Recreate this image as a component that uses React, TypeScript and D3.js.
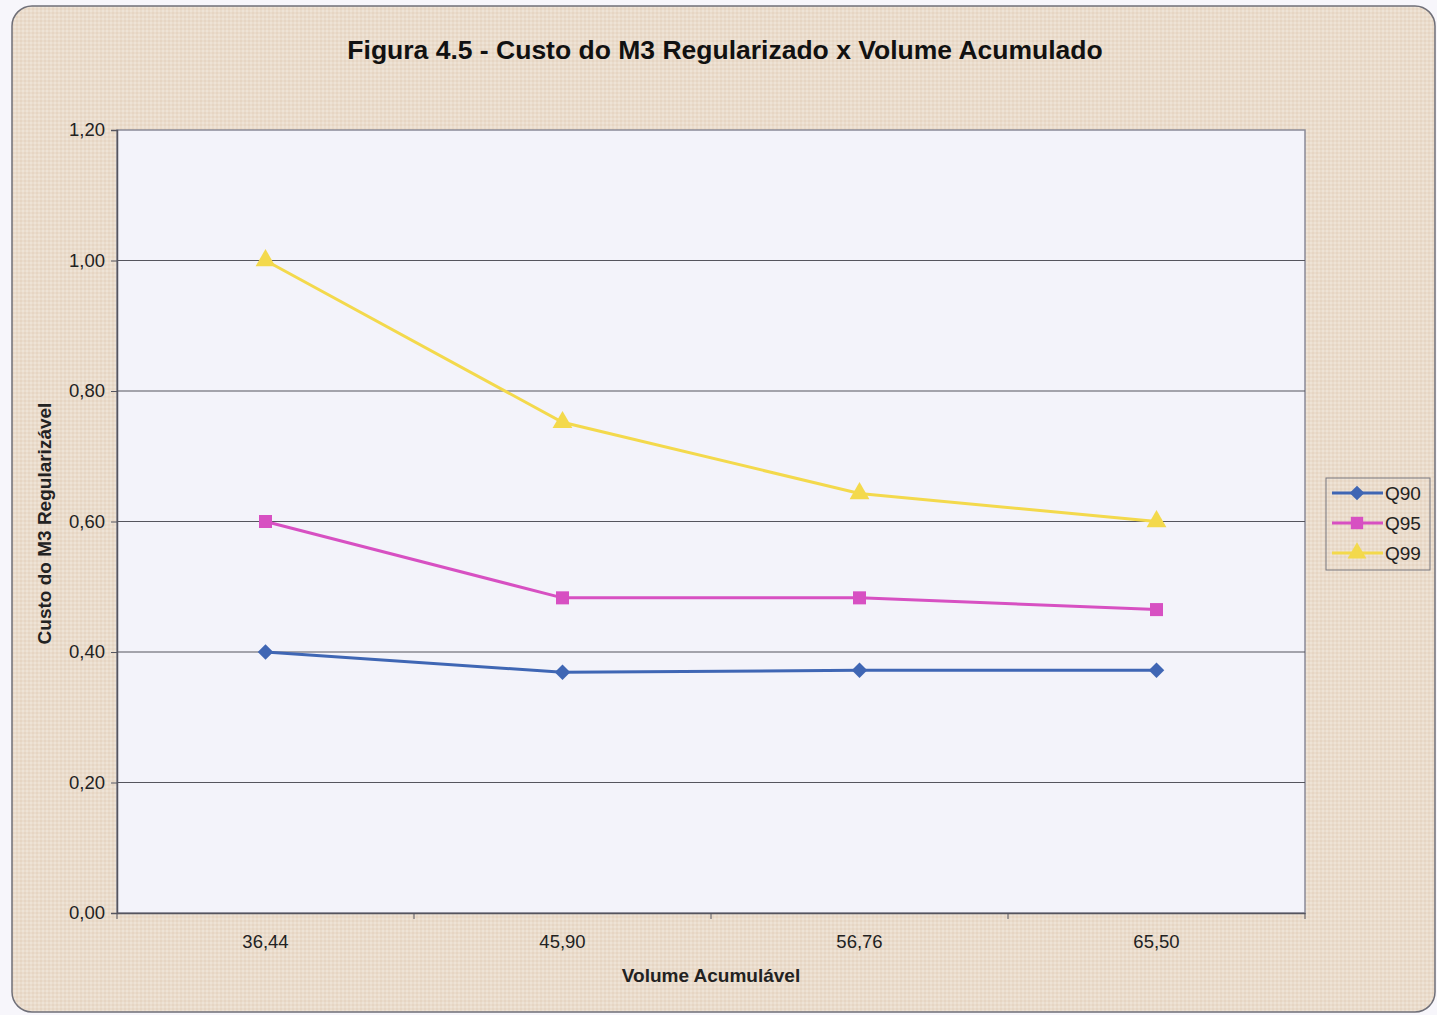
import React, { useRef, useEffect } from "react";
import * as d3 from "d3";

const categories = ["36,44", "45,90", "56,76", "65,50"];
const q90 = [0.4, 0.369, 0.372, 0.372];
const q95 = [0.6, 0.483, 0.483, 0.465];
const q99 = [1.0, 0.752, 0.643, 0.6];
const yTicks = [0, 0.2, 0.4, 0.6, 0.8, 1.0, 1.2];

const series = [
  { name: "Q90", values: q90, color: "#3f66b4", shape: d3.symbolSquare, rot: 45, size: 120 },
  { name: "Q95", values: q95, color: "#d750c2", shape: d3.symbolSquare, rot: 0, size: 170 },
  { name: "Q99", values: q99, color: "#f3d94c", shape: d3.symbolTriangle, rot: 0, size: 170 },
];

const W = 1437;
const H = 1015;

const App = () => {
  const ref = useRef<SVGSVGElement>(null);

  useEffect(() => {
    const svg = d3.select(ref.current);
    svg.selectAll("*").remove();

    const font = "'Liberation Sans', Arial, sans-serif";
    const plot = { left: 117, top: 130, right: 1305, bottom: 913 };

    // paper texture for the frame
    const defs = svg.append("defs");
    const pat = defs
      .append("pattern")
      .attr("id", "paper")
      .attr("width", 4)
      .attr("height", 4)
      .attr("patternUnits", "userSpaceOnUse");
    pat.append("rect").attr("width", 4).attr("height", 4).attr("fill", "#eadccc");
    pat.append("rect").attr("width", 2).attr("height", 2).attr("fill", "#e6d5c3");
    pat.append("rect").attr("x", 2).attr("y", 2).attr("width", 2).attr("height", 2).attr("fill", "#eee3d6");

    svg.append("rect").attr("width", W).attr("height", H).attr("fill", "#f7f6fb");
    svg
      .append("rect")
      .attr("x", 12)
      .attr("y", 6)
      .attr("width", 1423)
      .attr("height", 1006)
      .attr("rx", 20)
      .attr("fill", "url(#paper)")
      .attr("stroke", "#6f6f78")
      .attr("stroke-width", 1.5);

    // title
    svg
      .append("text")
      .attr("x", 725)
      .attr("y", 59)
      .attr("text-anchor", "middle")
      .style("font-family", font)
      .style("font-weight", "bold")
      .style("font-size", "26.5px")
      .attr("fill", "#111")
      .text("Figura 4.5 - Custo do M3 Regularizado x Volume Acumulado");

    const x = d3.scaleBand().domain(categories).range([plot.left, plot.right]);
    const y = d3.scaleLinear().domain([0, 1.2]).range([plot.bottom, plot.top]);

    // plot area
    svg
      .append("rect")
      .attr("x", plot.left)
      .attr("y", plot.top)
      .attr("width", plot.right - plot.left)
      .attr("height", plot.bottom - plot.top)
      .attr("fill", "#f3f3fa")
      .attr("stroke", "#8a8a98")
      .attr("stroke-width", 1.5);

    // gridlines
    svg
      .append("g")
      .selectAll("line")
      .data(yTicks.filter((t) => t > 0 && t < 1.2))
      .enter()
      .append("line")
      .attr("x1", plot.left)
      .attr("x2", plot.right)
      .attr("y1", (d) => y(d))
      .attr("y2", (d) => y(d))
      .attr("stroke", "#55555d")
      .attr("stroke-width", 1.2);

    // y axis
    const yAxis = svg
      .append("g")
      .attr("transform", `translate(${plot.left},0)`)
      .call(
        d3
          .axisLeft(y)
          .tickValues(yTicks)
          .tickSize(6)
          .tickFormat((d) => d3.format(".2f")(d as number).replace(".", ","))
      );
    yAxis.select(".domain").attr("stroke", "#55555f").attr("stroke-width", 1.5);
    yAxis.selectAll(".tick line").attr("stroke", "#55555f");
    yAxis
      .selectAll("text")
      .style("font-family", font)
      .style("font-size", "18.5px")
      .attr("fill", "#222")
      .attr("x", -12);

    // x axis
    const xAxis = svg
      .append("g")
      .attr("transform", `translate(0,${plot.bottom})`)
      .call(d3.axisBottom(x).tickSize(0).tickPadding(22));
    xAxis.select(".domain").attr("stroke", "#55555f").attr("stroke-width", 1.5);
    xAxis
      .selectAll("text")
      .style("font-family", font)
      .style("font-size", "18.5px")
      .attr("fill", "#222");
    svg
      .append("g")
      .selectAll("line")
      .data(categories.concat([""]))
      .enter()
      .append("line")
      .attr("x1", (d, i) => plot.left + i * x.bandwidth())
      .attr("x2", (d, i) => plot.left + i * x.bandwidth())
      .attr("y1", plot.bottom)
      .attr("y2", plot.bottom + 6)
      .attr("stroke", "#55555f");

    // axis titles
    svg
      .append("text")
      .attr("x", 711)
      .attr("y", 982)
      .attr("text-anchor", "middle")
      .style("font-family", font)
      .style("font-weight", "bold")
      .style("font-size", "19px")
      .attr("fill", "#222")
      .text("Volume Acumulável");

    svg
      .append("text")
      .attr("transform", `translate(51,${(plot.top + plot.bottom) / 2 + 2}) rotate(-90)`)
      .attr("text-anchor", "middle")
      .style("font-family", font)
      .style("font-weight", "bold")
      .style("font-size", "19px")
      .attr("fill", "#222")
      .text("Custo do M3 Regularizável");

    const cx = (i: number) => (x(categories[i]) as number) + x.bandwidth() / 2;

    // lines + markers
    series.forEach((s) => {
      const line = d3
        .line<number>()
        .x((d, i) => cx(i))
        .y((d) => y(d));
      svg
        .append("path")
        .datum(s.values)
        .attr("d", line)
        .attr("fill", "none")
        .attr("stroke", s.color)
        .attr("stroke-width", 3);
      svg
        .append("g")
        .selectAll("path")
        .data(s.values)
        .enter()
        .append("path")
        .attr("transform", (d, i) => `translate(${cx(i)},${y(d)}) rotate(${s.rot})`)
        .attr("d", d3.symbol().type(s.shape).size(s.size)())
        .attr("fill", s.color);
    });

    // legend
    const lg = svg.append("g").attr("transform", "translate(1326,478)");
    lg.append("rect")
      .attr("width", 104)
      .attr("height", 92)
      .attr("fill", "none")
      .attr("stroke", "#77777f")
      .attr("stroke-width", 1);
    series.forEach((s, i) => {
      const yy = 15 + i * 30;
      lg.append("line")
        .attr("x1", 6)
        .attr("x2", 57)
        .attr("y1", yy)
        .attr("y2", yy)
        .attr("stroke", s.color)
        .attr("stroke-width", 3);
      lg.append("path")
        .attr("transform", `translate(31,${yy}) rotate(${s.rot})`)
        .attr("d", d3.symbol().type(s.shape).size(s.size * 0.9)())
        .attr("fill", s.color);
      lg.append("text")
        .attr("x", 59)
        .attr("y", yy + 7)
        .style("font-family", font)
        .style("font-size", "19px")
        .attr("fill", "#222")
        .text(s.name);
    });
  }, []);

  return (
    <svg
      ref={ref}
      width={W}
      height={H}
      style={{ position: "absolute", left: 0, top: 0, display: "block" }}
    ></svg>
  );
};

export default App;
